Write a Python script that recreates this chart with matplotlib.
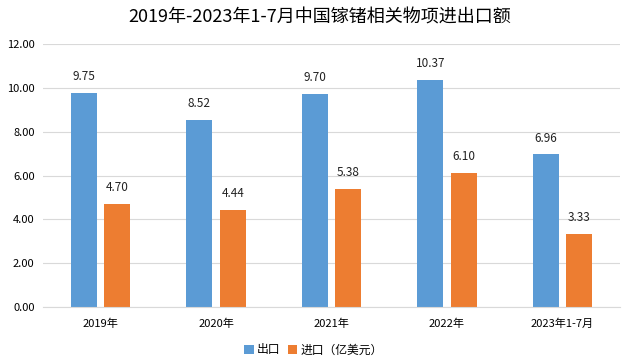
import numpy as np
import matplotlib
matplotlib.use("Agg")
import matplotlib.pyplot as plt

plt.rcParams['font.family'] = ['Noto Sans CJK SC', 'DejaVu Sans']

# datos
categories = ["2019年", "2020年", "2021年", "2022年", "2023年1-7月"]
export_vals = [9.75, 8.52, 9.70, 10.37, 6.96]
import_vals = [4.70, 4.44, 5.38, 6.10, 3.33]

blue = "#5B9BD5"
orange = "#ED7D31"

fig = plt.figure(figsize=(6.4, 3.6), dpi=100)
ax = fig.add_axes([0.067, 0.147, 0.902, 0.731])

x = np.arange(len(categories))
w = 0.225
off = 0.145
b1 = ax.bar(x - off, export_vals, w, color=blue, label="出口")
b2 = ax.bar(x + off, import_vals, w, color=orange, label="进口（亿美元）")

for bars, vals in ((b1, export_vals), (b2, import_vals)):
    for rect, v in zip(bars, vals):
        ax.text(rect.get_x() + rect.get_width() / 2, v + 0.45, f"{v:.2f}",
                ha="center", va="bottom", fontsize=8.5, color="#222222")

ax.set_xlim(-0.5, len(categories) - 0.5)
ax.set_ylim(0, 12)
ax.set_yticks(np.arange(0, 12.1, 2))
ax.set_yticklabels([f"{v:.2f}" for v in np.arange(0, 12.1, 2)], fontsize=8)
ax.set_xticks(x)
ax.set_xticklabels(categories, fontsize=8)
ax.tick_params(axis="y", length=0, pad=6)
ax.tick_params(axis="x", length=0, pad=8)
ax.yaxis.grid(True, color="#d9d9d9", linewidth=0.8)
ax.set_axisbelow(True)
for s in ["top", "right", "left"]:
    ax.spines[s].set_visible(False)
ax.spines["bottom"].set_color("#d9d9d9")

fig.suptitle("2019年-2023年1-7月中国镓锗相关物项进出口额", fontsize=13, y=0.975)
fig.legend(loc="center", bbox_to_anchor=(0.49, 0.028), ncol=2, frameon=False,
           fontsize=8.5, handlelength=0.8, handleheight=0.8, handletextpad=0.3,
           columnspacing=0.6)

fig.savefig("out.png", dpi=100)
